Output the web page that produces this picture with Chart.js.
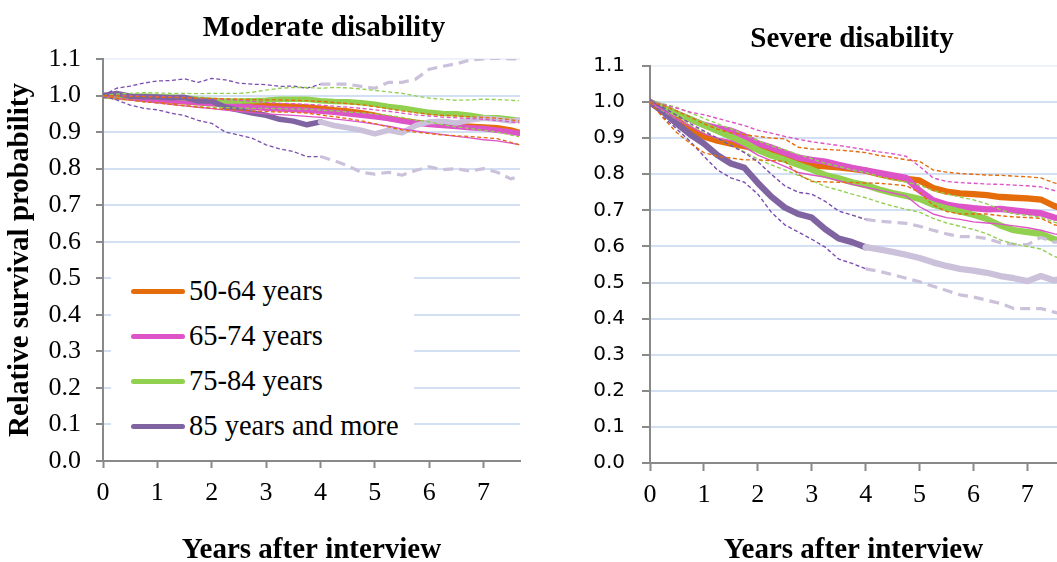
<!DOCTYPE html>
<html>
<head>
<meta charset="utf-8">
<title>Relative survival by disability level and age group</title>
<script src="https://cdn.jsdelivr.net/npm/chart.js@4.4.1/dist/chart.umd.min.js"></script>
<style>
  html, body { margin: 0; padding: 0; background: #fff; }
  #wrap { position: relative; width: 1057px; height: 562px; overflow: hidden; background: #fff; }
  #wrap canvas { position: absolute; top: 0; }
  #modCanvas { left: 0; }
  #sevCanvas { left: 530px; }
  .panel-title {
    position: absolute; white-space: nowrap; transform: translateX(-50%);
    font: bold 29px 'Liberation Serif', 'Times New Roman', serif; line-height: 29px; color: #000;
  }
  #legend { position: absolute; left: 111px; top: 258px; width: 303px; height: 194px; background: #fff; }
  .key {
    position: absolute; left: 20px; height: 30px; display: flex; align-items: center; white-space: nowrap;
    font: 28.5px 'Liberation Serif', 'Times New Roman', serif; color: #000;
  }
  .key i { display: inline-block; width: 54px; height: 5px; border-radius: 3px; margin-right: 4px; }
</style>
</head>
<body>
<div id="wrap">
  <canvas id="modCanvas" width="530" height="562"></canvas>
  <canvas id="sevCanvas" width="527" height="562"></canvas>
  <div class="panel-title" style="left:324px; top:12px;">Moderate disability</div>
  <div class="panel-title" style="left:852px; top:23px;">Severe disability</div>
  <div id="legend"></div>
</div>
<script>
'use strict';

// ── AXES ──
const years = [0, 0.25, 0.5, 0.75, 1, 1.25, 1.5, 1.75, 2, 2.25, 2.5, 2.75, 3, 3.25, 3.5, 3.75,
  4, 4.25, 4.5, 4.75, 5, 5.25, 5.5, 5.75, 6, 6.25, 6.5, 6.75, 7, 7.25, 7.5, 7.65];
const xTicks = [0, 1, 2, 3, 4, 5, 6, 7];
const yTicks = [0, 0.1, 0.2, 0.3, 0.4, 0.5, 0.6, 0.7, 0.8, 0.9, 1.0, 1.1];
const groups = ['50-64 years', '65-74 years', '75-84 years', '85 years and more'];

// 85+ curves switch to the pale colour from year 4 on
const LATE_FROM = years.indexOf(4);

// ── MODERATE DISABILITY ──
const modOrange   = [1.0, 0.996, 0.993, 0.99, 0.988, 0.985, 0.983, 0.98, 0.978, 0.976, 0.975, 0.973, 0.972, 0.972, 0.971, 0.969, 0.965, 0.961, 0.958, 0.953, 0.946, 0.938, 0.932, 0.927, 0.923, 0.92, 0.918, 0.916, 0.914, 0.912, 0.906, 0.9];
const modOrangeUp = [1.0, 0.999, 0.998, 0.997, 0.996, 0.995, 0.994, 0.993, 0.992, 0.991, 0.99, 0.989, 0.988, 0.988, 0.987, 0.986, 0.984, 0.981, 0.978, 0.975, 0.97, 0.964, 0.958, 0.953, 0.949, 0.946, 0.944, 0.942, 0.94, 0.938, 0.934, 0.93];
const modOrangeLo = [1.0, 0.993, 0.988, 0.983, 0.98, 0.976, 0.972, 0.968, 0.965, 0.962, 0.96, 0.958, 0.956, 0.955, 0.954, 0.952, 0.947, 0.942, 0.937, 0.931, 0.923, 0.914, 0.906, 0.9, 0.896, 0.892, 0.89, 0.888, 0.885, 0.882, 0.872, 0.866];
const modPink     = [1.0, 0.997, 0.995, 0.992, 0.99, 0.987, 0.984, 0.981, 0.978, 0.975, 0.972, 0.968, 0.965, 0.963, 0.962, 0.96, 0.957, 0.954, 0.95, 0.946, 0.942, 0.937, 0.93, 0.925, 0.921, 0.918, 0.915, 0.912, 0.91, 0.905, 0.9, 0.897];
const modPinkUp   = [1.0, 1.0, 0.999, 0.998, 0.997, 0.996, 0.995, 0.993, 0.991, 0.989, 0.987, 0.984, 0.981, 0.979, 0.978, 0.976, 0.974, 0.971, 0.968, 0.965, 0.961, 0.957, 0.952, 0.947, 0.944, 0.941, 0.939, 0.937, 0.935, 0.932, 0.928, 0.925];
const modPinkLo   = [1.0, 0.993, 0.988, 0.984, 0.98, 0.976, 0.972, 0.968, 0.964, 0.96, 0.957, 0.953, 0.95, 0.948, 0.946, 0.943, 0.94, 0.936, 0.932, 0.927, 0.922, 0.916, 0.909, 0.903, 0.898, 0.893, 0.888, 0.884, 0.879, 0.876, 0.87, 0.866];
const modGreen    = [1.0, 0.997, 0.997, 0.999, 0.997, 0.996, 0.994, 0.99, 0.987, 0.985, 0.985, 0.986, 0.987, 0.99, 0.99, 0.99, 0.986, 0.984, 0.983, 0.98, 0.976, 0.97, 0.966, 0.96, 0.954, 0.951, 0.95, 0.946, 0.94, 0.939, 0.935, 0.932];
const modGreenUp  = [1.0, 1.004, 1.006, 1.008, 1.007, 1.006, 1.006, 1.005, 1.006, 1.006, 1.006, 1.009, 1.015, 1.02, 1.022, 1.022, 1.02, 1.022, 1.021, 1.018, 1.014, 1.01, 1.006, 0.999, 0.993, 0.99, 0.987, 0.988, 0.99, 0.989, 0.987, 0.986];
const modGreenLo  = [1.0, 0.993, 0.988, 0.983, 0.98, 0.976, 0.973, 0.97, 0.968, 0.967, 0.966, 0.965, 0.965, 0.964, 0.963, 0.963, 0.96, 0.958, 0.955, 0.953, 0.95, 0.946, 0.94, 0.933, 0.928, 0.92, 0.914, 0.91, 0.905, 0.9, 0.892, 0.887];
const modOldest   = [1.0, 1.006, 0.998, 0.997, 0.996, 0.994, 0.995, 0.985, 0.985, 0.968, 0.96, 0.952, 0.946, 0.935, 0.93, 0.92, 0.928];
const modOldestUp = [1.0, 1.02, 1.026, 1.034, 1.04, 1.041, 1.046, 1.036, 1.047, 1.043, 1.034, 1.031, 1.03, 1.025, 1.026, 1.02, 1.031];
const modOldestLo = [1.0, 0.988, 0.974, 0.965, 0.961, 0.952, 0.945, 0.932, 0.924, 0.9, 0.892, 0.883, 0.865, 0.854, 0.847, 0.833, 0.833];
const modLate     = [0.928, 0.918, 0.912, 0.905, 0.895, 0.905, 0.898, 0.918, 0.928, 0.93, 0.925, 0.933, 0.938, 0.935, 0.93, 0.933];
const modLateUp   = [1.031, 1.031, 1.031, 1.025, 1.02, 1.036, 1.036, 1.045, 1.072, 1.08, 1.087, 1.097, 1.1, 1.102, 1.1, 1.1];
const modLateLo   = [0.833, 0.822, 0.808, 0.79, 0.785, 0.79, 0.782, 0.795, 0.805, 0.797, 0.8, 0.793, 0.8, 0.79, 0.772, 0.778];

// ── SEVERE DISABILITY ──
const sevOrange   = [1.0, 0.975, 0.95, 0.925, 0.905, 0.893, 0.885, 0.878, 0.87, 0.865, 0.857, 0.835, 0.825, 0.822, 0.819, 0.815, 0.81, 0.8, 0.792, 0.787, 0.783, 0.762, 0.752, 0.747, 0.745, 0.742, 0.737, 0.735, 0.733, 0.73, 0.712, 0.705];
const sevOrangeUp = [1.0, 0.99, 0.975, 0.958, 0.94, 0.925, 0.915, 0.91, 0.905, 0.9, 0.898, 0.875, 0.87, 0.869, 0.867, 0.864, 0.86, 0.852, 0.847, 0.84, 0.836, 0.812, 0.806, 0.802, 0.8, 0.798, 0.797, 0.795, 0.793, 0.79, 0.776, 0.772];
const sevOrangeLo = [1.0, 0.955, 0.915, 0.885, 0.86, 0.85, 0.845, 0.84, 0.84, 0.838, 0.836, 0.8, 0.78, 0.779, 0.778, 0.777, 0.776, 0.775, 0.772, 0.768, 0.75, 0.715, 0.697, 0.69, 0.69, 0.69, 0.685, 0.682, 0.68, 0.678, 0.66, 0.655];
const sevPink     = [1.0, 0.985, 0.968, 0.952, 0.937, 0.928, 0.921, 0.906, 0.886, 0.874, 0.86, 0.846, 0.84, 0.835, 0.826, 0.818, 0.811, 0.804, 0.797, 0.79, 0.755, 0.728, 0.716, 0.71, 0.706, 0.703, 0.704, 0.7, 0.696, 0.692, 0.68, 0.677];
const sevPinkUp   = [1.0, 0.993, 0.983, 0.972, 0.965, 0.955, 0.945, 0.935, 0.922, 0.914, 0.905, 0.897, 0.89, 0.885, 0.88, 0.874, 0.868, 0.862, 0.857, 0.85, 0.822, 0.79, 0.78, 0.777, 0.775, 0.773, 0.772, 0.77, 0.768, 0.765, 0.755, 0.75];
const sevPinkLo   = [1.0, 0.977, 0.953, 0.932, 0.912, 0.9, 0.893, 0.876, 0.853, 0.838, 0.822, 0.805, 0.798, 0.792, 0.782, 0.772, 0.764, 0.756, 0.748, 0.74, 0.71, 0.69, 0.68, 0.675, 0.668, 0.665, 0.662, 0.657, 0.652, 0.645, 0.635, 0.632];
const sevGreen    = [1.0, 0.985, 0.968, 0.953, 0.936, 0.92, 0.904, 0.887, 0.867, 0.852, 0.84, 0.826, 0.813, 0.798, 0.789, 0.778, 0.77, 0.758, 0.748, 0.74, 0.732, 0.716, 0.706, 0.697, 0.688, 0.676, 0.658, 0.645, 0.64, 0.635, 0.62, 0.616];
const sevGreenUp  = [1.0, 0.995, 0.985, 0.97, 0.955, 0.94, 0.926, 0.91, 0.893, 0.879, 0.868, 0.855, 0.843, 0.83, 0.822, 0.812, 0.805, 0.794, 0.785, 0.778, 0.77, 0.755, 0.746, 0.737, 0.729, 0.718, 0.702, 0.69, 0.686, 0.681, 0.667, 0.663];
const sevGreenLo  = [1.0, 0.975, 0.952, 0.935, 0.916, 0.899, 0.881, 0.862, 0.842, 0.826, 0.812, 0.797, 0.783, 0.766, 0.756, 0.745, 0.735, 0.723, 0.712, 0.703, 0.695, 0.678, 0.665, 0.656, 0.647, 0.635, 0.618, 0.607, 0.6, 0.593, 0.572, 0.567];
const sevOldest   = [1.0, 0.972, 0.94, 0.91, 0.885, 0.853, 0.83, 0.818, 0.776, 0.738, 0.708, 0.69, 0.68, 0.648, 0.622, 0.612, 0.598];
const sevOldestUp = [1.0, 0.985, 0.963, 0.94, 0.92, 0.9, 0.88, 0.86, 0.835, 0.8, 0.768, 0.75, 0.745, 0.725, 0.698, 0.687, 0.675];
const sevOldestLo = [1.0, 0.958, 0.925, 0.89, 0.85, 0.812, 0.79, 0.778, 0.745, 0.695, 0.66, 0.64, 0.62, 0.598, 0.565, 0.553, 0.538];
const sevLate     = [0.598, 0.592, 0.585, 0.577, 0.568, 0.556, 0.546, 0.538, 0.533, 0.527, 0.518, 0.512, 0.504, 0.518, 0.506, 0.512];
const sevLateUp   = [0.675, 0.67, 0.667, 0.664, 0.656, 0.645, 0.635, 0.627, 0.627, 0.622, 0.61, 0.606, 0.605, 0.625, 0.612, 0.615];
const sevLateLo   = [0.538, 0.531, 0.522, 0.512, 0.502, 0.49, 0.478, 0.466, 0.46, 0.451, 0.442, 0.428, 0.428, 0.428, 0.418, 0.412];

// ── STYLE ──
const MAIN_COLORS = ['#E46C0A', '#DD54C8', '#92D050', '#8064A2'];
const CI_COLORS   = ['#E46C0A', '#DD54C8', '#92D050', '#7A4DAF'];
const LATE_COLOR  = '#CCC1DA';
const AXIS_COLOR  = '#898989';
const GRID_COLOR  = '#D3DFF2';
const SERIF = "'Liberation Serif', 'Times New Roman', serif";
const THIN_DASH = [4, 2.5];

const pts = (vals, from = 0) => vals.map((y, i) => ({ x: years[from + i], y }));

const lineDs = (data, color, width, dash = []) => ({
  data,
  borderColor: color,
  borderWidth: width,
  borderDash: dash,
  borderJoinStyle: 'round',
  borderCapStyle: dash.length ? 'butt' : 'round',
  pointRadius: 0,
  tension: 0,
  fill: false,
});

// first dataset is drawn on top: confidence limits, then the pale 85+ tail,
// then the estimates from oldest to youngest group
const buildDatasets = (s) => [
  ...s.upper.map((vals, g) => lineDs(pts(vals), CI_COLORS[g], s.thin, THIN_DASH)),
  // the 65-74 lower limit is a plain thin line
  ...s.lower.map((vals, g) => lineDs(pts(vals), CI_COLORS[g], s.thin, g === 1 ? [] : THIN_DASH)),
  lineDs(pts(s.late[1], LATE_FROM), LATE_COLOR, 3.2, [10, 6]),
  lineDs(pts(s.late[2], LATE_FROM), LATE_COLOR, 3.2, [10, 6]),
  lineDs(pts(s.late[0], LATE_FROM), LATE_COLOR, s.thick),
  ...s.main.map((vals, g) => lineDs(pts(vals), MAIN_COLORS[g], s.thick)).reverse(),
];

const makePanel = (canvasId, s) => new Chart(document.getElementById(canvasId), {
  type: 'line',
  data: { datasets: buildDatasets(s) },
  options: {
    responsive: false,
    animation: false,
    events: [],
    layout: { padding: s.padding },
    plugins: { legend: { display: false }, tooltip: { enabled: false } },
    scales: {
      x: {
        type: 'linear',
        min: 0,
        max: s.xMax,
        afterBuildTicks: (scale) => { scale.ticks = xTicks.map(value => ({ value })); },
        afterFit: (scale) => { scale.height = s.xHeight; },
        border: { color: AXIS_COLOR, width: 2 },
        grid: { drawOnChartArea: false, tickLength: s.tickLength, tickColor: AXIS_COLOR, tickWidth: 2 },
        ticks: {
          color: '#000', padding: s.xPad, maxRotation: 0, autoSkip: false,
          font: { family: SERIF, size: 26 },
          callback: v => String(v),
        },
        title: {
          display: true, text: 'Years after interview', color: '#000', padding: 0,
          font: { family: SERIF, size: 29, weight: 'bold', lineHeight: 0.8 },
        },
      },
      y: {
        type: 'linear',
        min: 0,
        max: 1.1,
        afterBuildTicks: (scale) => { scale.ticks = yTicks.map(value => ({ value })); },
        afterFit: (scale) => { scale.width = s.yWidth; },
        border: { color: AXIS_COLOR, width: 2 },
        grid: {
          color: c => (c.tick && c.tick.value > 1.05 ? '#EEF2FA' : GRID_COLOR),
          lineWidth: 2,
          tickLength: s.tickLength,
          tickColor: AXIS_COLOR,
          tickWidth: 2,
        },
        ticks: {
          color: '#000', padding: s.yPad, autoSkip: false,
          font: s.yFont,
          callback: v => v.toFixed(1),
        },
        title: s.yTitle
          ? {
              display: true, text: s.yTitle, color: '#000', padding: { top: 3, bottom: 0 },
              font: { family: SERIF, size: 29, weight: 'bold' },
            }
          : { display: false },
      },
    },
  },
});

makePanel('modCanvas', {
  main:  [modOrange, modPink, modGreen, modOldest],
  upper: [modOrangeUp, modPinkUp, modGreenUp, modOldestUp],
  lower: [modOrangeLo, modPinkLo, modGreenLo, modOldestLo],
  late:  [modLate, modLateUp, modLateLo],
  thick: 5.5,
  thin: 1.3,
  padding: { top: 59, right: 10, bottom: 0, left: 0 },
  xMax: 7.67,
  xHeight: 101,
  yWidth: 103,
  tickLength: 7,
  xPad: 10,
  yPad: 15,
  yFont: { family: SERIF, size: 26 },
  yTitle: 'Relative survival probability',
});

makePanel('sevCanvas', {
  main:  [sevOrange, sevPink, sevGreen, sevOldest],
  upper: [sevOrangeUp, sevPinkUp, sevGreenUp, sevOldestUp],
  lower: [sevOrangeLo, sevPinkLo, sevGreenLo, sevOldestLo],
  late:  [sevLate, sevLateUp, sevLateLo],
  thick: 6.3,
  thin: 1.4,
  padding: { top: 66, right: 0, bottom: 0, left: 0 },
  xMax: 7.55,
  xHeight: 99,
  yWidth: 120,
  tickLength: 8,
  xPad: 9,
  yPad: 17,
  yFont: { family: "'DejaVu Sans', sans-serif", size: 20 },
  yTitle: null,
});

// ── LEGEND (inside the moderate panel) ──
const legend = document.getElementById('legend');
groups.forEach((label, g) => {
  const row = document.createElement('div');
  row.className = 'key';
  row.style.top = (18 + g * 45) + 'px';
  const swatch = document.createElement('i');
  swatch.style.background = MAIN_COLORS[g];
  const text = document.createElement('span');
  text.textContent = label;
  row.append(swatch, text);
  legend.appendChild(row);
});
</script>
</body>
</html>
